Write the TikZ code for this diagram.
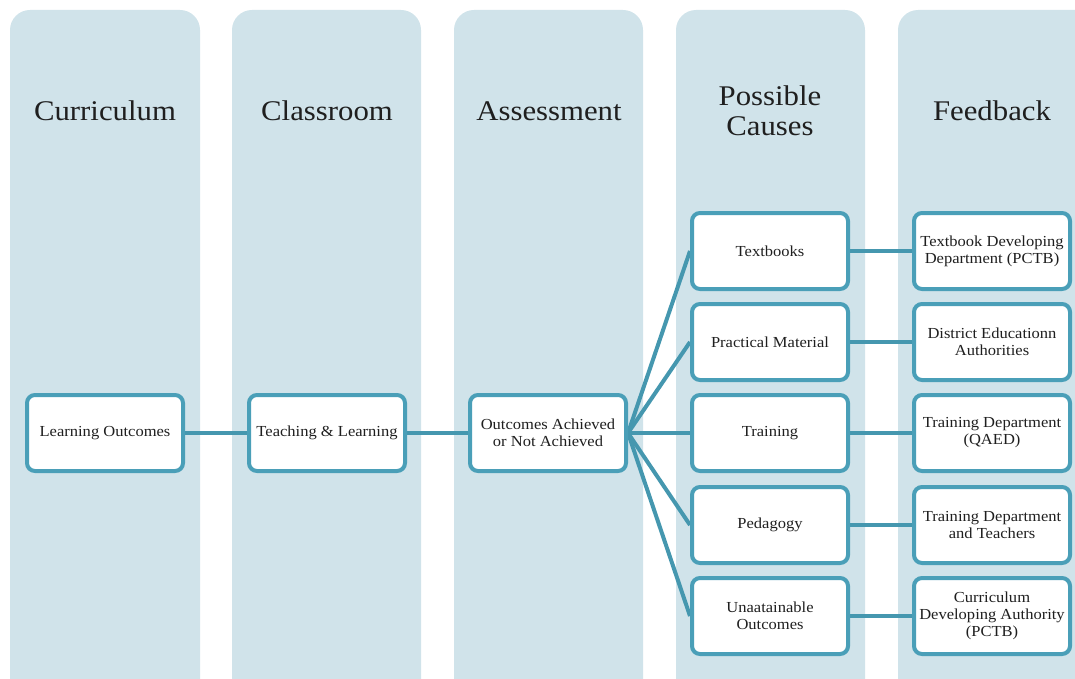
\documentclass[tikz,border=0pt]{standalone}
\usepackage{fontspec}
\setmainfont{Liberation Serif}[FakeStretch=1.08]
\pgfdeclarelayer{lanes}
\pgfdeclarelayer{links}
\pgfsetlayers{lanes,links,main}
\begin{document}
\begin{tikzpicture}[x=1pt,y=-1pt,
  lane/.style={fill=laneblue, draw=none, rounded corners=20pt},
  lanetitle/.style={font=\fontsize{28.5}{30}\selectfont, text=black!88, align=center},
  item/.style={draw=edgeblue, line width=4pt, fill=white, rounded corners=8pt,
    minimum width=156pt, minimum height=76pt, inner sep=2pt, align=center,
    font=\fontsize{15.3}{17}\selectfont, text=black!88},
  link/.style={draw=linkblue, line width=4pt}]
\definecolor{laneblue}{HTML}{D0E3EA}
\definecolor{edgeblue}{HTML}{4A9FB8}
\definecolor{linkblue}{HTML}{4597AF}
\useasboundingbox (0,0) rectangle (1075,679);
\clip (0,0) rectangle (1075,679);

% background lanes
\begin{pgfonlayer}{lanes}
\fill[lane] (10,10) rectangle (200,700);
\fill[lane] (232,10) rectangle (421,700);
\fill[lane] (454,10) rectangle (643,700);
\fill[lane] (676,10) rectangle (865,700);
\fill[lane] (898,10) rectangle (1100,700);
\end{pgfonlayer}

% lane titles
\node[lanetitle] (tcur) at (105,111) {Curriculum};
\node[lanetitle] (tcls) at (327,111) {Classroom};
\node[lanetitle] (tass) at (549,111) {Assessment};
\node[lanetitle] (tcau) at (770,111) {Possible\\Causes};
\node[lanetitle] (tfb)  at (992,111) {Feedback};

% main chain
\node[item] (lo) at (105,433) {Learning Outcomes};
\node[item] (tl) at (327,433) {Teaching \& Learning};
\node[item] (oa) at (548,433) {Outcomes Achieved\\or Not Achieved};

% possible causes
\node[item] (c1) at (770,251) {Textbooks};
\node[item] (c2) at (770,342) {Practical Material};
\node[item] (c3) at (770,433) {Training};
\node[item] (c4) at (770,525) {Pedagogy};
\node[item] (c5) at (770,616) {Unaatainable\\Outcomes};

% feedback
\node[item] (f1) at (992,251) {Textbook Developing\\Department (PCTB)};
\node[item] (f2) at (992,342) {District Educationn\\Authorities};
\node[item] (f3) at (992,433) {Training Department\\(QAED)};
\node[item] (f4) at (992,525) {Training Department\\and Teachers};
\node[item] (f5) at (992,616) {Curriculum\\Developing Authority\\(PCTB)};

% connectors, kept beneath the boxes
\begin{pgfonlayer}{links}
\draw[link] (lo.center) -- (tl.center);
\draw[link] (tl.center) -- (oa.center);
\foreach \i in {1,...,5}{
  \draw[link] (oa.east) -- (c\i.west);
  \draw[link] (c\i.center) -- (f\i.center);
}
\end{pgfonlayer}
\end{tikzpicture}
\end{document}
